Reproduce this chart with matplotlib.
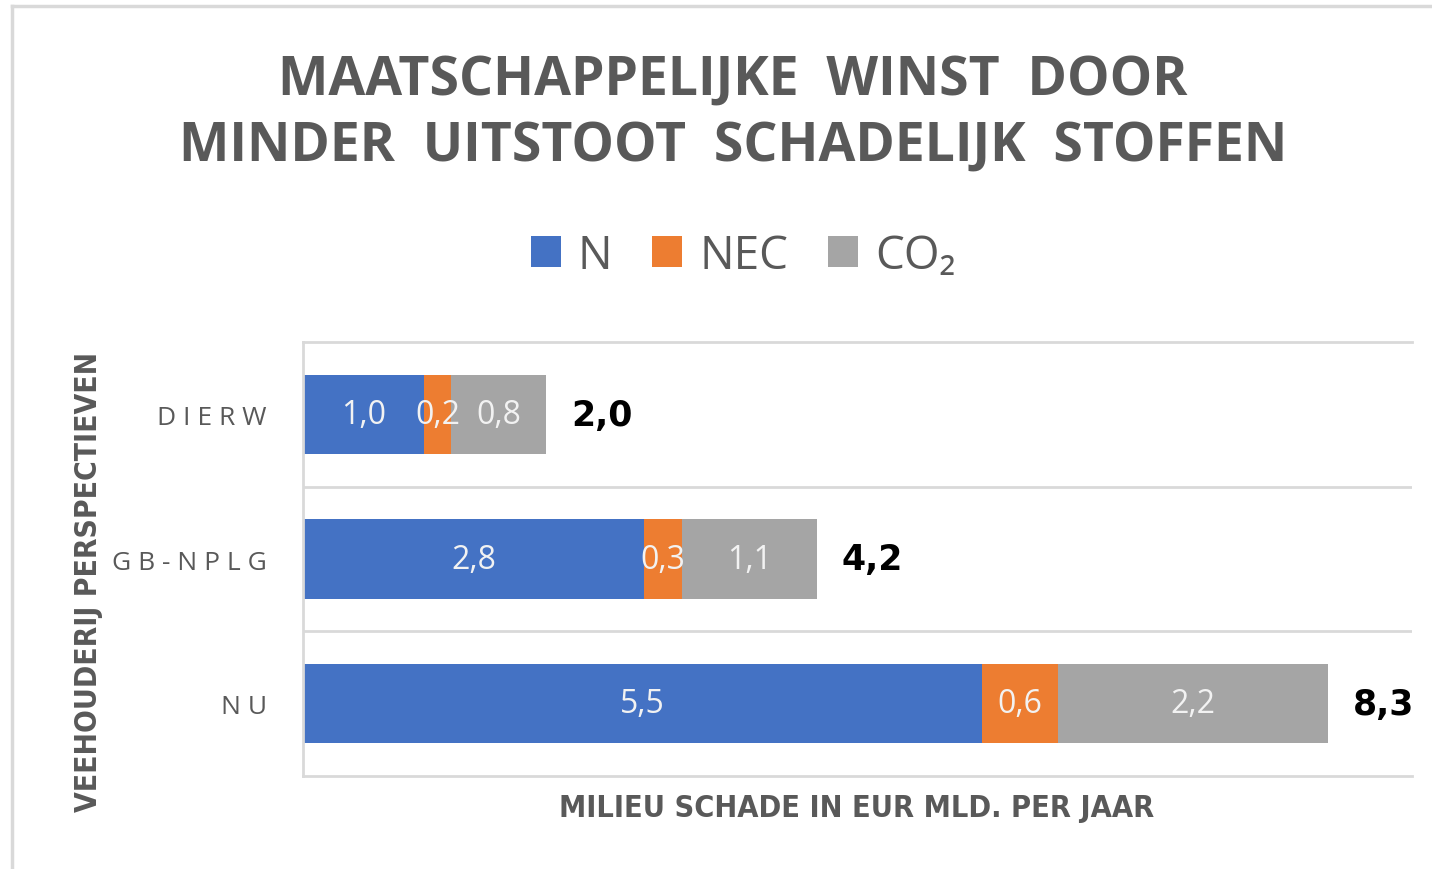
import numpy as np
import matplotlib.pyplot as plt
from matplotlib.patches import Patch
from matplotlib.lines import Line2D

# Data (EUR mld per jaar)
categories = ["D I E R W", "G B - N P L G", "N U"]
n_values = [0.98, 2.76, 5.50]
nec_values = [0.22, 0.31, 0.61]
co2_values = [0.77, 1.09, 2.19]
series_names = ["N", "NEC", "CO₂"]
colors = ["#4472C4", "#ED7D31", "#A5A5A5"]

text_gray = "#595959"
grid_gray = "#D9D9D9"

fig = plt.figure(figsize=(14.32, 8.70), dpi=100)
ax = fig.add_axes([0.2116, 0.1069, 0.7744, 0.4985])

y = np.arange(len(categories))
left = np.zeros(len(categories))
bars = []
for vals, name, col in zip([n_values, nec_values, co2_values], series_names, colors):
    b = ax.barh(y, vals, left=left, height=0.55, color=col, label=name)
    bars.append(b)
    left = left + np.array(vals)

# segment labels
for b in bars:
    ax.bar_label(b, labels=[f"{w:.1f}".replace(".", ",") for w in b.datavalues],
                 label_type="center", color="#F2F2F2", fontsize=23,
                 family="Open Sans")

# totals
totals = left
for yi, t in zip(y, totals):
    ax.annotate(f"{t:.1f}".replace(".", ","), xy=(t, yi), xytext=(18, 0),
                textcoords="offset points", va="center", ha="left",
                fontsize=25, fontweight="bold", family="DejaVu Sans", color="black")

ax.set_xlim(0, 8.98)
ax.set_ylim(2.5, -0.5)
ax.set_xticks([])
ax.set_yticks(y)
ax.set_yticklabels(categories, family="Open Sans", fontsize=19, color=text_gray)
ax.tick_params(axis="y", length=0, pad=26)
ax.set_yticks([0.5, 1.5], minor=True)
ax.tick_params(axis="y", which="minor", length=0)
ax.grid(True, axis="y", which="minor", color=grid_gray, linewidth=2)
for s in ["top", "bottom", "left"]:
    ax.spines[s].set_color(grid_gray)
    ax.spines[s].set_linewidth(2)
ax.spines["right"].set_visible(False)

# axis titles
fig.text(0.5985, 0.071, "MILIEU SCHADE IN EUR MLD. PER JAAR", ha="center", va="center",
         fontsize=22, fontweight="bold", family="DejaVu Sans", fontstretch="condensed",
         color=text_gray)
fig.text(0.0615, 0.331, "VEEHOUDERIJ PERSPECTIEVEN", ha="center", va="center",
         rotation=90, fontsize=21.5, fontweight="bold", family="DejaVu Sans",
         fontstretch="condensed", color=text_gray)

# title
fig.text(0.512, 0.907, "MAATSCHAPPELIJKE  WINST  DOOR", ha="center", va="center",
         fontsize=38.5, fontweight="bold", family="Open Sans", color=text_gray)
fig.text(0.512, 0.831, "MINDER  UITSTOOT  SCHADELIJK  STOFFEN", ha="center", va="center",
         fontsize=38.5, fontweight="bold", family="Open Sans", color=text_gray)

# legend
handles = [Patch(facecolor=c) for c in colors]
fig.legend(handles, series_names, loc="center", bbox_to_anchor=(0.519, 0.705), ncol=3,
           frameon=False, prop={"family": ["Open Sans", "DejaVu Sans"], "size": 33},
           labelcolor=text_gray, handlelength=0.65, handleheight=0.65,
           handletextpad=0.37, columnspacing=0.87)

# outer frame
fig.add_artist(Line2D([12 / 1432, 12 / 1432], [0, 1 - 7 / 870], color=grid_gray,
                      linewidth=2.5, transform=fig.transFigure))
fig.add_artist(Line2D([12 / 1432, 1], [1 - 7 / 870, 1 - 7 / 870], color=grid_gray,
                      linewidth=2.5, transform=fig.transFigure))

fig.savefig("out.png", dpi=100)
